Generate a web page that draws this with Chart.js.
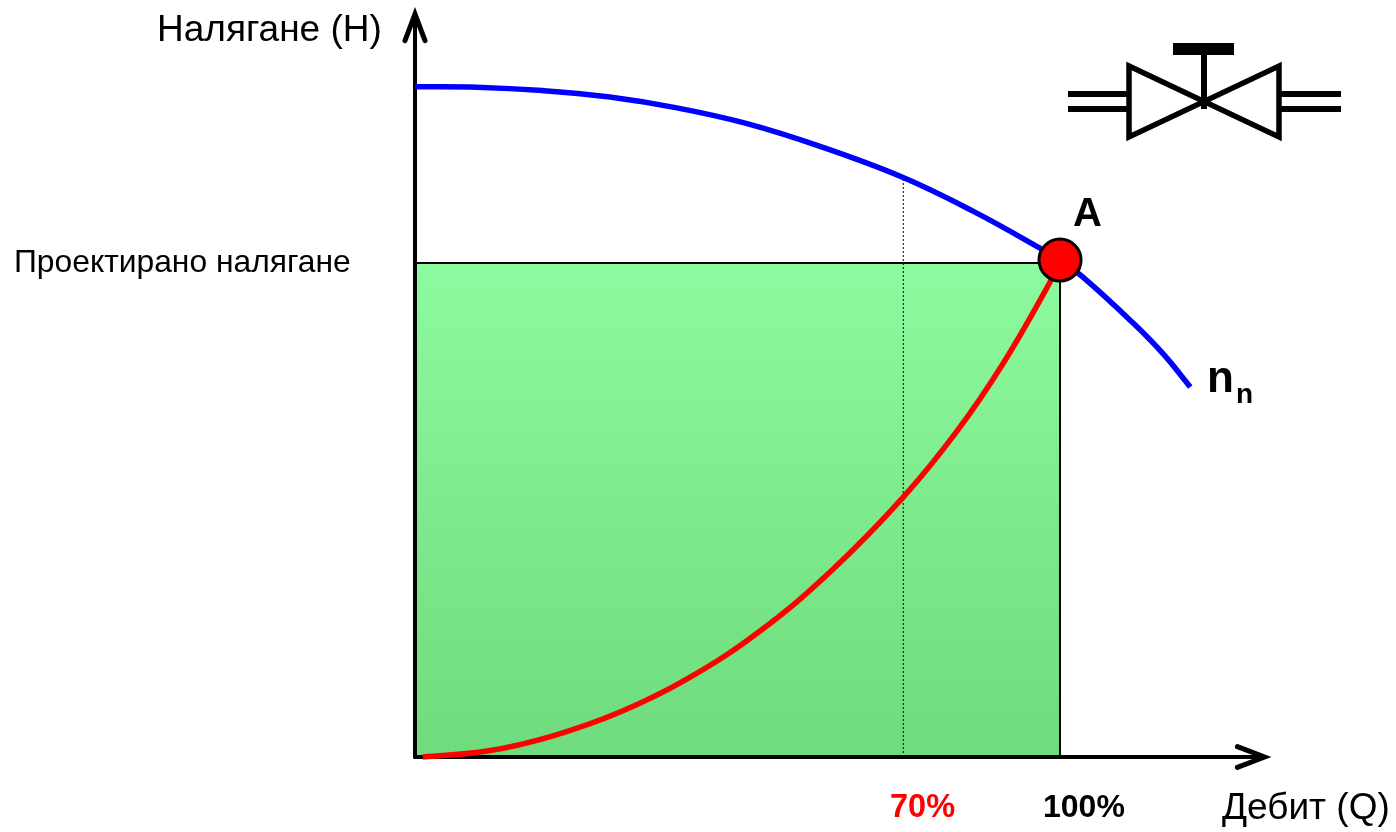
<!DOCTYPE html>
<html lang="bg">
<head>
  <meta charset="UTF-8">
  <title>Налягане - дебит</title>
  <script src="https://cdn.jsdelivr.net/npm/chart.js"></script>
  <style>
    html, body { margin: 0; padding: 0; background: #fff; }
    canvas { display: block; }
  </style>
</head>
<body>
  <canvas id="chart" width="1396" height="832"></canvas>

  <script>
    // x is flow with the operating point at 100, y is head with the design head at 100
    const pumpFlow = [0, 9.6, 19.8, 30.2, 40.6, 51.2, 62.8, 75.5, 86.5, 96.9, 100, 103.6, 111.3, 116, 120.2];
    const pumpHead = [135.7, 135.6, 134.9, 133.6, 131.4, 128.3, 123.6, 117.4, 110.5, 103, 100.5, 97.1, 87.9, 81.6, 74.9];

    const systemFlow = [1.2, 11.2, 21.4, 31.8, 42.2, 53.5, 64.8, 75.7, 84, 91.2, 98.4, 100];
    const systemHead = [0, 1.2, 4.3, 9.1, 15.8, 25.5, 38, 52.6, 65.9, 79.7, 96, 100.6];

    const designFlow = 100;
    const designHead = 100;
    const partFlow = 75.7;
    const partHead = 117.4;
    const pointAFlow = 100;
    const pointAHead = 100.6;

    const xTickLabels = ['70%', '100%'];
    const yTickLabel = 'Проектирано налягане';
    const xTitle = 'Дебит (Q)';
    const yTitle = 'Налягане (Н)';

    const xAxisEnd = 131.7;
    const yAxisEnd = 150.4;

    function pts(xs, ys) {
      return xs.map((x, i) => ({ x: x, y: ys[i] }));
    }

    function rectFill(context) {
      const chart = context.chart;
      if (!chart.chartArea) return '#7eeb8e';
      const y = chart.scales.y;
      const g = chart.ctx.createLinearGradient(0, y.getPixelForValue(designHead), 0, y.getPixelForValue(0));
      g.addColorStop(0, '#8cfa9e');
      g.addColorStop(1, '#6edc7c');
      return g;
    }

    // texts and the valve symbol go on top of the datasets
    const labelsPlugin = {
      id: 'labels',
      afterDatasetsDraw(chart) {
        const ctx = chart.ctx;
        const text = (str, x, y, font, color) => {
          ctx.font = font;
          ctx.fillStyle = color || '#000';
          ctx.textAlign = 'left';
          ctx.textBaseline = 'alphabetic';
          ctx.fillText(str, x, y);
        };
        ctx.save();
        text(yTitle, 157, 41, '37px "Liberation Sans"');
        text(yTickLabel, 14, 272, '31.8px "Liberation Sans"');
        text(xTitle, 1222, 819, '37px "Liberation Sans"');
        text(xTickLabels[0], 890, 817, 'bold 32.5px "Liberation Sans"', '#ff0000');
        text(xTickLabels[1], 1043, 817, 'bold 32px "Liberation Sans"');
        text('A', 1073, 226, 'bold 40px "Liberation Sans"');
        text('n', 1207, 392, 'bold 44px "Liberation Sans"');
        text('n', 1236, 403, 'bold 28px "Liberation Sans"');

        // valve
        ctx.strokeStyle = '#000';
        ctx.fillStyle = '#000';
        ctx.lineWidth = 5.5;
        ctx.lineJoin = 'miter';
        ctx.beginPath();
        ctx.moveTo(1129, 66);
        ctx.lineTo(1279, 137);
        ctx.lineTo(1279, 66);
        ctx.lineTo(1129, 137);
        ctx.closePath();
        ctx.stroke();
        ctx.fillRect(1173, 43, 61, 12);
        ctx.fillRect(1201, 55, 6, 54);
        ctx.fillRect(1068, 91, 60, 6);
        ctx.fillRect(1068, 106, 60, 6);
        ctx.fillRect(1281, 91, 60, 6);
        ctx.fillRect(1281, 106, 60, 6);
        ctx.restore();
      }
    };

    new Chart(document.getElementById('chart'), {
      type: 'scatter',
      data: {
        datasets: [
          {
            label: 'A',
            data: [{ x: pointAFlow, y: pointAHead }],
            pointRadius: 21,
            pointBackgroundColor: '#ff0000',
            pointBorderColor: '#000',
            pointBorderWidth: 3
          },
          {
            label: 'Система',
            data: pts(systemFlow, systemHead),
            showLine: true,
            tension: 0.4,
            borderColor: '#ff0000',
            borderWidth: 5.5,
            pointRadius: 0
          },
          {
            label: 'Помпа',
            data: pts(pumpFlow, pumpHead),
            showLine: true,
            tension: 0.4,
            borderColor: '#0000ff',
            borderWidth: 5.5,
            pointRadius: 0
          },
          {
            label: '70%',
            data: [{ x: partFlow, y: 0 }, { x: partFlow, y: partHead }],
            showLine: true,
            borderColor: '#000',
            borderWidth: 1,
            borderDash: [2, 2],
            pointRadius: 0
          },
          {
            label: 'ос Q',
            data: [{ x: 0, y: 0 }, { x: xAxisEnd, y: 0 }],
            showLine: true,
            borderColor: '#000',
            borderWidth: 4,
            borderCapStyle: 'round',
            pointRadius: 0
          },
          {
            label: 'стрелка Q',
            data: [{ x: xAxisEnd - 4.2, y: 2.1 }, { x: xAxisEnd, y: 0 }, { x: xAxisEnd - 4.2, y: -2.1 }],
            showLine: true,
            borderColor: '#000',
            borderWidth: 5,
            borderCapStyle: 'round',
            pointRadius: 0
          },
          {
            label: 'ос H',
            data: [{ x: 0, y: 0 }, { x: 0, y: yAxisEnd }],
            showLine: true,
            borderColor: '#000',
            borderWidth: 4,
            borderCapStyle: 'round',
            pointRadius: 0
          },
          {
            label: 'стрелка H',
            data: [{ x: -1.55, y: yAxisEnd - 5.4 }, { x: 0, y: yAxisEnd }, { x: 1.55, y: yAxisEnd - 5.4 }],
            showLine: true,
            borderColor: '#000',
            borderWidth: 5,
            borderCapStyle: 'round',
            pointRadius: 0
          },
          {
            label: 'работна област',
            data: [{ x: 0, y: designHead }, { x: designFlow, y: designHead }, { x: designFlow, y: 0 }],
            showLine: true,
            borderColor: '#000',
            borderWidth: 2,
            backgroundColor: rectFill,
            fill: 'origin',
            pointRadius: 0
          }
        ]
      },
      options: {
        responsive: false,
        animation: false,
        layout: { padding: 0, autoPadding: false },
        plugins: {
          legend: { display: false },
          tooltip: { enabled: false }
        },
        scales: {
          x: { type: 'linear', display: false, min: -64.34, max: 152.09 },
          y: { type: 'linear', display: false, min: -15.18, max: 153.24 }
        }
      },
      plugins: [labelsPlugin]
    });
  </script>
</body>
</html>
